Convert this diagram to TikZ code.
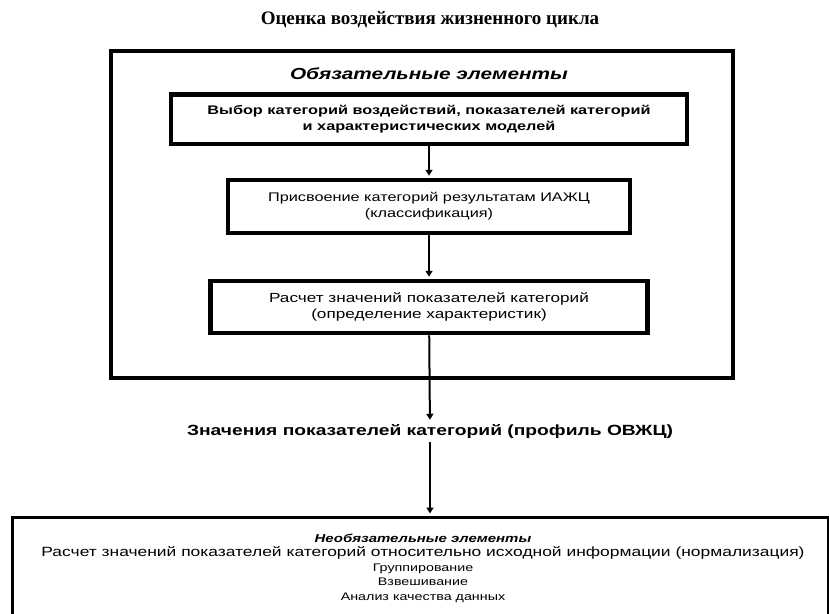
\documentclass[tikz,border=0pt]{standalone}
\usepackage{fontspec}
\setmainfont{Liberation Sans}
\newfontfamily\titlefont{Liberation Serif}
\newfontfamily\widefont[FakeStretch=1.3]{Liberation Sans}
\usetikzlibrary{arrows.meta}

\tikzset{
  stagebox/.style={draw, line width=4.5pt, inner sep=0pt, align=center},
  flow/.style={line width=2pt, -{Triangle[width=7pt,length=6pt]}, shorten >=2pt}
}

\begin{document}
\begin{tikzpicture}[x=1pt, y=-1pt]
\clip (0,0) rectangle (829,613);

% Title
\node[font=\titlefont\bfseries\fontsize{19}{22}\selectfont] (title) at (430,20) {Оценка воздействия жизненного цикла};

% Mandatory elements
\node[draw, line width=4pt, inner sep=0pt, minimum width=621.5pt, minimum height=326.5pt] (mandbox) at (421.75,214.25) {};
\node[font=\widefont\bfseries\itshape\fontsize{16}{18}\selectfont] (mandhead) at (429,74) {Обязательные элементы};
\node[stagebox, minimum width=516pt, minimum height=49.5pt, font=\widefont\bfseries\fontsize{12.5}{16}\selectfont] (select) at (429,119.25) {Выбор категорий воздействий, показателей категорий\\и характеристических моделей};
\node[stagebox, minimum width=402pt, minimum height=53pt, font=\widefont\fontsize{12.5}{16}\selectfont] (classify) at (429,206.5) {Присвоение категорий результатам ИАЖЦ\\(классификация)};
\node[stagebox, minimum width=437pt, minimum height=52pt, font=\widefont\fontsize{13.2}{16}\selectfont] (charact) at (429,307) {Расчет значений показателей категорий\\(определение характеристик)};

% Category indicator results
\node[font=\widefont\bfseries\fontsize{14.8}{17}\selectfont, inner sep=3pt] (profile) at (430,432) {Значения показателей категорий (профиль ОВЖЦ)};

% Optional elements
\node[draw, line width=3pt, inner sep=0pt, minimum width=816pt, minimum height=123pt] (optbox) at (420,578.5) {};
\node[font=\widefont\fontsize{11}{14.5}\selectfont, align=center] (opttext) at (423,568) {{\bfseries\itshape\fontsize{11.5}{14.5}\selectfont Необязательные элементы}\\{\fontsize{13.4}{14.5}\selectfont Расчет значений показателей категорий относительно исходной информации (нормализация)}\\Группирование\\Взвешивание\\Анализ качества данных};

\draw[flow] (select) -- (classify);
\draw[flow] (classify) -- (charact);
\draw[flow] (charact) -- (profile);
\draw[flow] (profile.south) -- (profile.south |- optbox.north);
\end{tikzpicture}
\end{document}
